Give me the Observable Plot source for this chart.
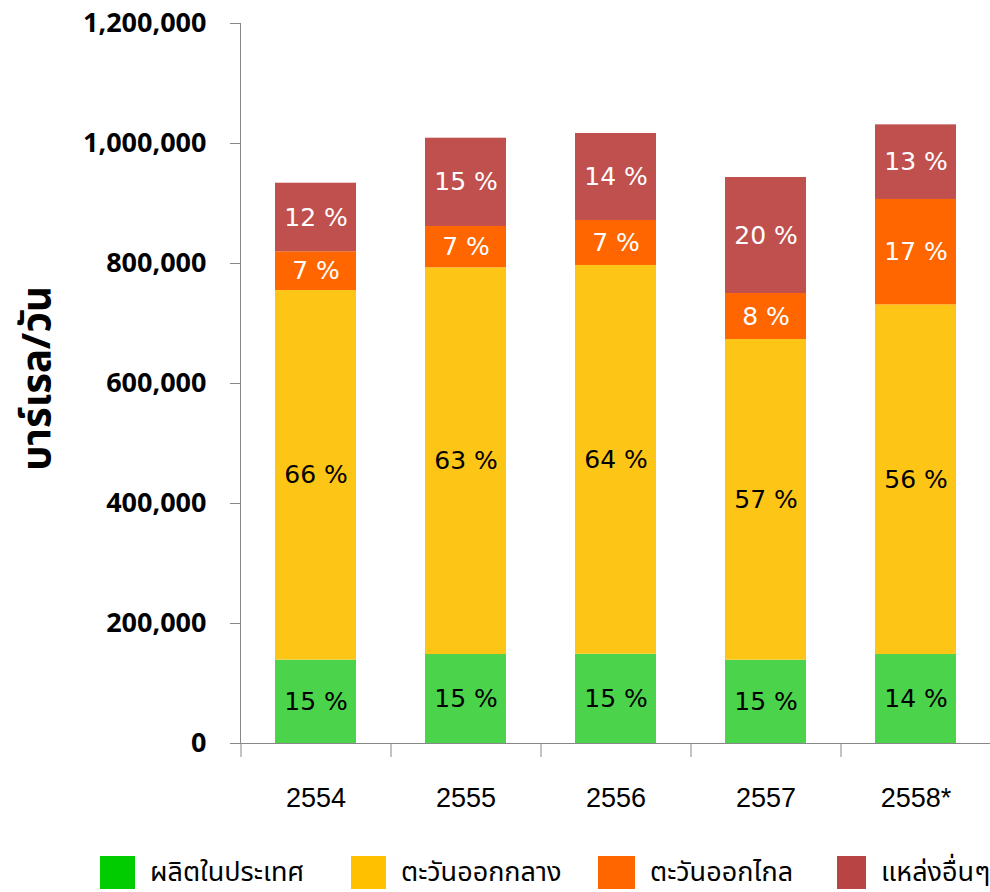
<!DOCTYPE html>
<html>
<head>
<meta charset="utf-8">
<script src="https://cdn.jsdelivr.net/npm/d3@7"></script>
<script src="https://cdn.jsdelivr.net/npm/@observablehq/plot@0.6"></script>
<style>
  body { margin: 0; background: #fff; width: 990px; height: 892px; overflow: hidden; }
  #legend { display: flex; height: 36px; padding-top: 1px; padding-left: 100px;
    font-family: Tahoma, "Noto Sans Thai", "Leelawadee UI", "DejaVu Sans", sans-serif; font-size: 27px; line-height: 30px; }
  .item { display: flex; align-items: center; white-space: nowrap; height: 33px; }
  .sw { height: 33px; margin-right: 15px; flex: none; }
</style>
</head>
<body>
<div id="chart"></div>
<div id="legend"></div>
<script>
const years = ["2554", "2555", "2556", "2557", "2558*"];
const series = ["ผลิตในประเทศ", "ตะวันออกกลาง", "ตะวันออกไกล", "แหล่งอื่นๆ"];
const domestic   = [139000, 148300, 148800, 138900, 148300];
const middleEast = [616000, 644500, 647900, 534400, 582800];
const farEast    = [64500, 68900, 75000, 76700, 175600];
const others     = [114300, 147100, 145000, 193300, 124400];
const domesticPct   = ["15 %", "15 %", "15 %", "15 %", "14 %"];
const middleEastPct = ["66 %", "63 %", "64 %", "57 %", "56 %"];
const farEastPct    = ["7 %", "7 %", "7 %", "8 %", "17 %"];
const othersPct     = ["12 %", "15 %", "14 %", "20 %", "13 %"];
const yTicks = [0, 200000, 400000, 600000, 800000, 1000000, 1200000];
const yLabel = "บาร์เรล/วัน";

const barColors = ["#4CD34C", "#FDC516", "#FF6600", "#C0504D"];
const legendColors = ["#00CC00", "#FFC000", "#FF6600", "#B94444"];
const labelColors = ["#000000", "#000000", "#ffffff", "#ffffff"];

const values = [domestic, middleEast, farEast, others];
const pcts = [domesticPct, middleEastPct, farEastPct, othersPct];
const data = [];
years.forEach((yr, i) => {
  series.forEach((s, k) => {
    data.push({year: yr, series: s, value: values[k][i], pct: pcts[k][i], k});
  });
});

const thaiFont = 'Tahoma, "Noto Sans Thai", "Leelawadee UI", "DejaVu Sans", sans-serif';

const chart = Plot.plot({
  width: 990,
  height: 855,
  marginLeft: 240,
  marginRight: 0,
  marginTop: 23,
  marginBottom: 112,
  style: {background: "#fff"},
  x: {domain: years, paddingInner: 0.46, paddingOuter: 0.23, label: null},
  y: {domain: [0, 1200000], label: null},
  color: {domain: series, range: barColors},
  marks: [
    Plot.barY(data, {x: "year", y: "value", fill: "series", order: series}),
    Plot.text(data, Plot.stackY({
      x: "year", y: "value", z: "series", order: series, text: "pct",
      fill: d => labelColors[d.k],
      fontSize: 25, fontFamily: '"DejaVu Sans", Verdana, sans-serif'
    })),
    Plot.frame({anchor: "left", stroke: "#888"}),
    Plot.ruleY([0], {stroke: "#888"}),
    Plot.axisY({
      ticks: yTicks, tickFormat: d3.format(","), tickSize: 10, tickPadding: 24,
      stroke: "#888", fontSize: 27, fontWeight: "bold",
      fontFamily: '"Open Sans", "Liberation Sans", sans-serif', fill: "#000", label: null
    }),
    Plot.axisX({tickSize: 14, dx: -75, tickFormat: () => "", stroke: "#888", label: null}),
    Plot.axisX({tickSize: 0, tickPadding: 44, fontSize: 27,
      fontFamily: '"Liberation Sans", Arial, sans-serif', fill: "#000", label: null}),
    Plot.text([yLabel], {
      frameAnchor: "left", textAnchor: "middle", rotate: -90, dx: -203, dy: -5,
      fontSize: 40, fontWeight: "bold", fontFamily: thaiFont, fill: "#000"
    })
  ]
});
document.getElementById("chart").appendChild(chart);

const legend = document.getElementById("legend");
const itemWidths = [251, 247, 239, 150];
const swatchWidths = [35, 35, 37, 29];
series.forEach((s, k) => {
  const item = document.createElement("div");
  item.className = "item";
  item.style.width = itemWidths[k] + "px";
  const sw = document.createElement("div");
  sw.className = "sw";
  sw.style.width = swatchWidths[k] + "px";
  sw.style.background = legendColors[k];
  const t = document.createElement("span");
  t.textContent = s;
  item.appendChild(sw);
  item.appendChild(t);
  legend.appendChild(item);
});
</script>
</body>
</html>
